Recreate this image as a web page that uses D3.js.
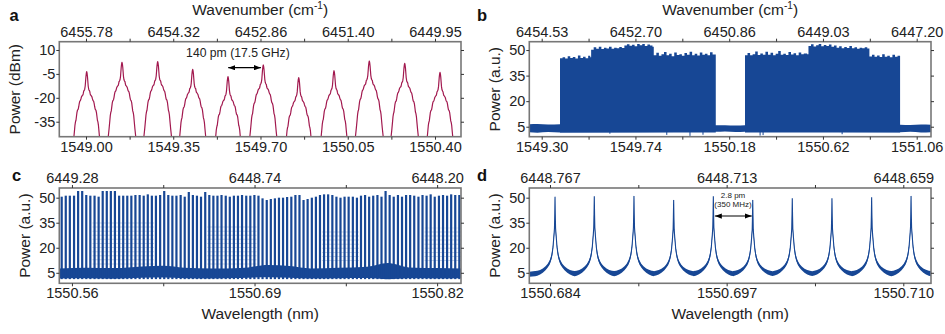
<!DOCTYPE html>
<html>
<head>
<meta charset="utf-8">
<script src="https://cdn.jsdelivr.net/npm/d3@7"></script>
<style>
  body { margin: 0; background: #fff; }
  svg { font-family: "Liberation Sans", Arial, sans-serif; }
</style>
</head>
<body>
<svg id="fig" width="945" height="334"></svg>
<script>
// ---------- panel a : comb lines (dBm) ----------
const aTicks = [1549.00, 1549.35, 1549.70, 1550.05, 1550.40];
const aMinor = [1549.175, 1549.525, 1549.875, 1550.225];
const aTopLabels = ['6455.78', '6454.32', '6452.86', '6451.40', '6449.95'];
const aYTicks = [10, -5, -20, -35];
const aPeakCenters = [1549.0028, 1549.1444, 1549.2876, 1549.4280, 1549.5696, 1549.7112,
  1549.8533, 1549.9949, 1550.1365, 1550.2785, 1550.4201];
const aPeakHeights = [-3.6, 2.3, 2.7, -2.1, -6.7, 0.6, -7.3, -3.0, 3.1, 1.6, -4.0];
// one side of a line: offset in pm, level relative to the tip in dB
const aProfilePm = [0, 1.5, 3, 4.5, 6, 8, 10, 12, 13.5, 15, 18, 21, 23, 25, 28, 30, 32, 34, 37, 39, 41, 43, 45, 47, 49, 52, 56, 62];
const aProfileDb = [0, -1, -3, -6, -9, -11, -11.8, -12.2, -13.5, -14.5, -15, -15.8, -17, -18, -18.6, -20, -22, -23.5,
  -24.2, -25.5, -28, -30.5, -31.5, -33.5, -37, -42, -48, -56];

// ---------- panel b : two broad bands (a.u.) ----------
const bTicks = [1549.30, 1549.74, 1550.18, 1550.62, 1551.06];
const bMinor = [1549.52, 1549.96, 1550.40, 1550.84];
const bTopLabels = ['6454.53', '6452.70', '6450.86', '6449.03', '6447.20'];
const bYTicks = [50, 35, 20, 5];
const bBand1 = [[1549.386,45.2],[1549.398,45.8],[1549.410,45.0],[1549.422,46.4],[1549.434,45.3],[1549.446,45.9],
  [1549.458,45.1],[1549.470,46.8],[1549.482,45.4],[1549.494,46.0],[1549.506,45.2],[1549.518,46.6],[1549.528,45.8],
  [1549.532,50.2],[1549.544,51.6],[1549.556,50.8],[1549.568,51.9],[1549.580,50.6],[1549.592,51.3],[1549.604,50.9],
  [1549.616,52.0],[1549.628,50.7],[1549.640,51.4],[1549.652,51.0],[1549.664,51.8],[1549.676,51.2],[1549.688,52.6],
  [1549.700,53.4],[1549.712,52.5],[1549.724,53.1],[1549.736,52.2],[1549.748,53.6],[1549.760,52.8],[1549.772,53.5],
  [1549.784,52.4],[1549.796,53.2],[1549.808,52.6],[1549.820,52.0],
  [1549.826,47.0],[1549.838,48.4],[1549.850,46.6],[1549.862,47.5],[1549.874,48.8],[1549.886,46.9],[1549.898,47.8],
  [1549.910,46.4],[1549.922,48.6],[1549.934,47.1],[1549.946,47.6],[1549.958,46.7],[1549.970,48.2],[1549.982,47.3],
  [1549.994,49.0],[1550.006,47.0],[1550.018,47.8],[1550.030,46.8],[1550.042,48.5],[1550.054,47.2],[1550.066,47.9],
  [1550.078,46.9],[1550.090,48.7],[1550.102,47.4],[1550.117,47.4]];
const bBand2 = [[1550.254,47.0],[1550.266,48.2],[1550.278,46.9],[1550.290,47.6],[1550.302,49.2],[1550.314,47.1],
  [1550.326,48.0],[1550.338,47.3],[1550.350,49.0],[1550.362,47.2],[1550.374,48.4],[1550.386,47.0],[1550.398,47.8],
  [1550.410,49.4],[1550.422,47.3],[1550.434,47.9],[1550.446,47.1],[1550.458,48.8],[1550.470,47.4],[1550.482,48.1],
  [1550.494,47.0],[1550.506,48.6],[1550.518,47.5],[1550.530,48.0],[1550.546,47.6],
  [1550.552,52.4],[1550.564,53.4],[1550.576,52.1],[1550.588,52.8],[1550.600,53.6],[1550.612,52.3],[1550.624,53.0],
  [1550.636,52.4],[1550.648,53.3],[1550.660,52.0],[1550.672,52.7],[1550.684,51.4],[1550.696,52.2],[1550.708,51.0],
  [1550.720,51.8],[1550.732,51.2],[1550.744,52.4],[1550.756,51.0],[1550.768,51.6],[1550.780,50.8],[1550.792,51.4],
  [1550.804,51.0],[1550.816,51.7],[1550.828,50.9],
  [1550.838,46.2],[1550.850,47.3],[1550.862,46.0],[1550.874,46.8],[1550.886,45.9],[1550.898,47.6],[1550.910,46.1],
  [1550.922,46.7],[1550.934,45.8],[1550.946,47.2],[1550.958,46.0],[1550.970,46.6],[1550.982,46.6]];
const bBaseWl = [1549.242, 1549.28, 1549.33, 1549.386, 1550.117, 1550.16, 1550.21, 1550.254, 1550.982, 1551.03, 1551.08, 1551.127];
const bBaseHi = [6.4, 6.6, 6.3, 6.5, 5.8, 5.9, 5.7, 5.9, 6.2, 6.0, 6.3, 6.1];
const bBaseLo = [1.8, 1.5, 1.9, 1.6, 2.0, 2.2, 1.9, 2.1, 1.7, 2.0, 1.6, 1.8];
const bDips = [[1549.62, 0.9], [1549.887, 0.2], [1549.996, -0.4], [1550.057, 0.3], [1550.325, -0.2], [1550.339, 0.1], [1550.71, 0.6]];

// ---------- panel c : resolved comb (a.u.) ----------
const cTicks = [1550.56, 1550.69, 1550.82];
const cMinor = [1550.625, 1550.755];
const cTopLabels = ['6449.28', '6448.74', '6448.20'];
const cYTicks = [50, 35, 20, 5];
const cOrigin = 1550.55; // line positions below are pm above this wavelength
const cLinePm = [2.7,5.6,8.5,11.5,14.4,17.3,20.2,23.1,26.1,29.0,31.9,34.8,37.7,40.6,43.6,46.5,49.4,52.3,55.2,58.2,
  61.1,64.0,66.9,69.8,72.8,75.7,78.6,81.5,84.4,87.4,90.3,93.2,96.1,99.0,101.9,104.9,107.8,110.7,113.6,116.5,
  119.5,122.4,125.3,128.2,131.1,134.1,137.0,139.9,142.8,145.7,148.7,151.6,154.5,157.4,160.3,163.2,166.2,169.1,172.0,174.9,
  177.8,180.8,183.7,186.6,189.5,192.4,195.4,198.3,201.2,204.1,207.0,210.0,212.9,215.8,218.7,221.6,224.5,227.5,230.4,233.3,
  236.2,239.1,242.1,245.0,247.9,250.8,253.7,256.7,259.6,262.5,265.4,268.3,271.3,274.2,277.1,280.0,282.9,285.8];
const cLineHeights = [50.6,51.2,51.2,51.2,54.0,54.0,51.6,51.2,51.2,50.6,54.0,54.0,54.0,54.0,51.2,51.2,51.2,51.2,51.6,51.6,
  51.2,52.0,51.2,51.2,
  51.6,54.0,51.6,51.2,51.2,51.6,50.6,53.4,51.6,51.2,50.6,53.4,51.6,51.2,51.2,51.6,51.2,50.6,51.2,51.2,51.6,51.2,51.2,51.6,51.2,
  49.6,48.6,49.2,49.6,50.0,50.0,50.4,50.6,51.6,51.6,48.6,49.2,50.0,50.6,51.6,52.0,52.0,51.6,50.6,50.0,50.6,50.6,50.6,50.0,
  51.2,51.6,50.6,51.2,51.6,50.6,54.0,51.6,50.6,51.6,50.6,51.6,51.6,51.2,50.6,51.6,51.2,52.0,50.6,51.2,51.6,51.2,52.0,51.6,51.6];
const cBaseWl = [1550.551, 1550.57, 1550.59, 1550.61, 1550.625, 1550.64, 1550.66, 1550.68, 1550.70, 1550.715,
  1550.73, 1550.75, 1550.77, 1550.785, 1550.80, 1550.82, 1550.837];
const cBaseHi = [7.6, 8.0, 7.8, 8.8, 9.2, 8.0, 7.5, 7.8, 9.6, 9.0, 7.6, 8.0, 8.6, 10.8, 8.2, 7.8, 7.6];
const cBaseLo = [1.6, 1.8, 1.5, 2.0, 2.2, 1.8, 1.6, 1.9, 2.3, 2.0, 1.6, 1.8, 1.9, 1.2, 1.7, 1.6, 1.8];
// faint flank samples visible between lines: [from, to, low, high]
const cFlanks = [[1550.576, 1550.617, 10, 36], [1550.657, 1550.692, 10, 33], [1550.739, 1550.763, 12, 30], [1550.810, 1550.836, 12, 32]];

// ---------- panel d : single lines (a.u.) ----------
const dTicks = [1550.684, 1550.697, 1550.710];
const dMinor = [1550.6905, 1550.7035];
const dTopLabels = ['6448.767', '6448.713', '6448.659'];
const dYTicks = [50, 35, 20, 5];
const dPeakCenters = [1550.68437, 1550.68726, 1550.69018, 1550.69310, 1550.69602, 1550.69892,
  1550.70183, 1550.70475, 1550.70767, 1550.71057];
const dPeakHeights = [51.6, 51.8, 52.0, 49.6, 51.8, 49.6, 50.6, 50.6, 51.2, 52.0];
const dBase = 4.5;
// one side of a line (offset pm, upper and lower edge of the noisy trace)
const dProfilePm = [0, 0.02, 0.04, 0.07, 0.1, 0.15, 0.22, 0.3, 0.4, 0.55, 0.7, 0.9, 1.1, 1.3, 1.46];
const dProfileHi = [51, 41, 33, 29.5, 26.5, 21.5, 17.5, 14.5, 12.3, 10.2, 8.8, 7.5, 6.7, 6.2, 6.0];
const dProfileLo = [49, 38, 30, 26.5, 23.5, 18.5, 14.5, 12, 9.8, 7.9, 6.5, 5.0, 4.0, 3.3, 3.0];
const dEdge = { hi: 5.6, lo: 2.6 };

// ---------- drawing ----------
const svg = d3.select('#fig');
const blue = '#174795';
const red = '#a2194f';

const defs = svg.append('defs');
defs.append('marker')
  .attr('id', 'head')
  .attr('viewBox', '0 0 8 6')
  .attr('refX', 8).attr('refY', 3)
  .attr('markerUnits', 'userSpaceOnUse')
  .attr('markerWidth', 7).attr('markerHeight', 5.5)
  .attr('orient', 'auto-start-reverse')
  .append('path').attr('d', 'M0,0L8,3L0,6Z').attr('fill', '#000');

function makePanel(p) {
  const x = d3.scaleLinear().domain(p.xDomain).range([p.left, p.right]);
  const y = d3.scaleLinear().domain(p.yDomain).range([p.bottom, p.top]);
  defs.append('clipPath').attr('id', 'clip-' + p.name)
    .append('rect')
    .attr('x', p.left).attr('y', p.top)
    .attr('width', p.right - p.left).attr('height', p.bottom - p.top);
  const g = svg.append('g');
  const plot = g.append('g').attr('clip-path', `url(#clip-${p.name})`);
  return { p, x, y, g, plot };
}

function finishPanel(P) {
  const { p, x, y, g } = P;
  const style = sel => {
    sel.attr('font-family', null).attr('font-size', 14.5);
    sel.select('.domain').remove();
    sel.selectAll('.tick line').attr('stroke', '#333').attr('stroke-width', 1);
    sel.selectAll('.tick text').attr('fill', '#222');
  };
  g.append('rect')
    .attr('x', p.left).attr('y', p.top)
    .attr('width', p.right - p.left).attr('height', p.bottom - p.top)
    .attr('fill', 'none').attr('stroke', '#777').attr('stroke-width', 1.6);

  g.append('g').attr('transform', `translate(0,${p.bottom})`)
    .call(d3.axisBottom(x).tickValues(p.xTicks).tickFormat(d3.format(p.xFmt)).tickSize(3).tickPadding(1.8))
    .call(style);
  g.append('g').attr('transform', `translate(0,${p.bottom})`)
    .call(d3.axisBottom(x).tickValues(p.xMinor).tickFormat('').tickSize(3))
    .call(style);
  g.append('g').attr('transform', `translate(0,${p.top})`)
    .call(d3.axisTop(x).tickValues(p.xTicks).tickFormat((d, i) => p.topLabels[i]).tickSize(3).tickPadding(2.2))
    .call(style);
  g.append('g').attr('transform', `translate(0,${p.top})`)
    .call(d3.axisTop(x).tickValues(p.xMinor).tickFormat('').tickSize(3))
    .call(style);
  g.append('g').attr('transform', `translate(${p.left},0)`)
    .call(d3.axisLeft(y).tickValues(p.yTicks).tickFormat(d => String(d)).tickSize(3).tickPadding(1))
    .call(style);
  g.append('g').attr('transform', `translate(${p.right},0)`)
    .call(d3.axisRight(y).tickValues(p.yTicks).tickFormat('').tickSize(3))
    .call(style);

  const mid = (p.top + p.bottom) / 2;
  g.append('text')
    .attr('transform', `translate(${p.yLabelX},${mid}) rotate(-90)`)
    .attr('text-anchor', 'middle').attr('dy', '0.35em')
    .attr('font-size', 15.5).attr('fill', '#222')
    .text(p.yLabel);

  g.append('text')
    .attr('x', p.letterX).attr('y', p.letterY)
    .attr('font-size', 16.5).attr('font-weight', 'bold').attr('fill', '#111')
    .text(p.name);

  const cx = (p.left + p.right) / 2;
  if (p.topTitle) {
    const t = g.append('text')
      .attr('x', cx).attr('y', p.top - 26.7)
      .attr('text-anchor', 'middle').attr('font-size', 15.5).attr('fill', '#222');
    t.append('tspan').text('Wavenumber (cm');
    t.append('tspan').attr('font-size', 10).attr('dy', -6).text('-1');
    t.append('tspan').attr('dy', 6).text(')');
  }
  if (p.bottomTitle) {
    g.append('text')
      .attr('x', cx).attr('y', p.bottom + 36)
      .attr('text-anchor', 'middle').attr('font-size', 15.5).attr('fill', '#222')
      .text('Wavelength (nm)');
  }
}

// ---- a ----
const A = makePanel({
  name: 'a', left: 59.3, right: 461, top: 41.7, bottom: 136.7,
  xDomain: [1548.8929, 1550.5043], yDomain: [-44.4, 15.2],
  xTicks: aTicks, xMinor: aMinor, xFmt: '.2f', topLabels: aTopLabels, yTicks: aYTicks,
  yLabel: 'Power (dBm)', yLabelX: 15, letterX: 9.5, letterY: 21, topTitle: true
});
const aLine = d3.line().x(d => A.x(d[0])).y(d => A.y(d[1]));
aPeakCenters.forEach((c, i) => {
  const h = aPeakHeights[i];
  const pts = [];
  for (let k = aProfilePm.length - 1; k > 0; k--) pts.push([c - aProfilePm[k] / 1000, h + aProfileDb[k]]);
  for (let k = 0; k < aProfilePm.length; k++) pts.push([c + aProfilePm[k] / 1000, h + aProfileDb[k]]);
  A.plot.append('path').attr('d', aLine(pts))
    .attr('fill', 'none').attr('stroke', red).attr('stroke-width', 1.2).attr('stroke-linejoin', 'round');
});
// spacing annotation
A.g.append('line')
  .attr('x1', A.x(1549.5705)).attr('x2', A.x(1549.7015))
  .attr('y1', 67.7).attr('y2', 67.7)
  .attr('stroke', '#000').attr('stroke-width', 1.2)
  .attr('marker-start', 'url(#head)').attr('marker-end', 'url(#head)');
A.g.append('text')
  .attr('x', A.x(1549.6095)).attr('y', 57.3)
  .attr('text-anchor', 'middle').attr('font-size', 12.2).attr('fill', '#222')
  .text('140 pm (17.5 GHz)');
finishPanel(A);

// ---- b ----
const B = makePanel({
  name: 'b', left: 529.3, right: 931, top: 41.7, bottom: 136.7,
  xDomain: [1549.2418, 1551.1271], yDomain: [-0.86, 54.9],
  xTicks: bTicks, xMinor: bMinor, xFmt: '.2f', topLabels: bTopLabels, yTicks: bYTicks,
  yLabel: 'Power (a.u.)', yLabelX: 495, letterX: 477, letterY: 21, topTitle: true
});
const bBase = bBaseWl.map((w, i) => [w, bBaseLo[i], bBaseHi[i]]);
B.plot.append('path')
  .attr('d', d3.area().x(d => B.x(d[0])).y0(d => B.y(d[1])).y1(d => B.y(d[2])).curve(d3.curveMonotoneX)(bBase))
  .attr('fill', blue);
const bArea = d3.area().x(d => B.x(d[0])).y0(B.y(1.6)).y1(d => B.y(d[1])).curve(d3.curveStepAfter);
[bBand1, bBand2].forEach(band => {
  B.plot.append('path').attr('d', bArea(band)).attr('fill', blue);
});
B.plot.selectAll('line.dip').data(bDips).join('line')
  .attr('x1', d => B.x(d[0])).attr('x2', d => B.x(d[0]))
  .attr('y1', B.y(2)).attr('y2', d => B.y(d[1]))
  .attr('stroke', blue).attr('stroke-width', 1);
finishPanel(B);

// ---- c ----
const C = makePanel({
  name: 'c', left: 59.3, right: 461, top: 188, bottom: 283.3,
  xDomain: [1550.551, 1550.837], yDomain: [-1.3, 55.8],
  xTicks: cTicks, xMinor: cMinor, xFmt: '.2f', topLabels: cTopLabels, yTicks: cYTicks,
  yLabel: 'Power (a.u.)', yLabelX: 25, letterX: 12, letterY: 180.7, bottomTitle: true
});
const cLines = cLinePm.map((pm, i) => ({ wl: cOrigin + pm / 1000, h: cLineHeights[i] }));
const cFlankLines = [];
cLines.forEach(l => {
  cFlanks.forEach(f => { if (l.wl >= f[0] && l.wl <= f[1]) cFlankLines.push({ wl: l.wl, lo: f[2], hi: f[3] }); });
});
C.plot.selectAll('line.flank').data(cFlankLines).join('line')
  .attr('x1', d => C.x(d.wl)).attr('x2', d => C.x(d.wl))
  .attr('y1', d => C.y(d.lo)).attr('y2', d => C.y(d.hi))
  .attr('stroke', '#9db2d8').attr('stroke-width', 4.2).attr('stroke-dasharray', '1,3.1').attr('opacity', 0.5);
const cBase = cBaseWl.map((w, i) => [w, cBaseLo[i], cBaseHi[i]]);
C.plot.append('path')
  .attr('d', d3.area().x(d => C.x(d[0])).y0(d => C.y(d[1])).y1(d => C.y(d[2])).curve(d3.curveMonotoneX)(cBase))
  .attr('fill', blue);
C.plot.selectAll('rect.line').data(cLines).join('rect')
  .attr('x', d => C.x(d.wl) - 1.1).attr('width', 2.2)
  .attr('y', d => C.y(d.h)).attr('height', d => C.y(1.2) - C.y(d.h))
  .attr('fill', blue);
finishPanel(C);

// ---- d ----
const D = makePanel({
  name: 'd', left: 529.3, right: 931, top: 188, bottom: 283.3,
  xDomain: [1550.682477, 1550.712038], yDomain: [-1.3, 55.8],
  xTicks: dTicks, xMinor: dMinor, xFmt: '.3f', topLabels: dTopLabels, yTicks: dYTicks,
  yLabel: 'Power (a.u.)', yLabelX: 495, letterX: 477, letterY: 180.7, bottomTitle: true
});
const dPts = [];
dPeakCenters.forEach((c, i) => {
  const k = (dPeakHeights[i] - dBase) / (dProfileHi[0] - dBase);
  for (let j = dProfilePm.length - 1; j >= 0; j--) {
    const s = j === 0 ? [1] : [-1, 1];
    s.forEach(sg => dPts.push({
      wl: c + sg * dProfilePm[j] / 1000,
      hi: dBase + (dProfileHi[j] - dBase) * k,
      lo: dBase + (dProfileLo[j] - dBase) * k
    }));
  }
});
dPts.push({ wl: D.x.domain()[0], hi: dEdge.hi, lo: dEdge.lo });
dPts.push({ wl: D.x.domain()[1], hi: dEdge.hi, lo: dEdge.lo });
dPts.sort((a, b) => a.wl - b.wl);
D.plot.append('path')
  .attr('d', d3.area().x(d => D.x(d.wl)).y0(d => D.y(d.lo)).y1(d => D.y(d.hi))(dPts))
  .attr('fill', blue);
D.plot.append('path')
  .attr('d', d3.line().x(d => D.x(d.wl)).y(d => D.y((d.lo + d.hi) / 2))(dPts))
  .attr('fill', 'none').attr('stroke', blue).attr('stroke-width', 1.1);
D.g.append('line')
  .attr('x1', D.x(1550.69602) + 1.5).attr('x2', D.x(1550.69892) - 1)
  .attr('y1', 216).attr('y2', 216)
  .attr('stroke', '#000').attr('stroke-width', 1.2)
  .attr('marker-start', 'url(#head)').attr('marker-end', 'url(#head)');
D.g.append('text')
  .attr('x', D.x(1550.69747)).attr('y', 198.3)
  .attr('text-anchor', 'middle').attr('font-size', 8).attr('fill', '#222')
  .text('2.8 pm');
D.g.append('text')
  .attr('x', D.x(1550.69747)).attr('y', 207.3)
  .attr('text-anchor', 'middle').attr('font-size', 8).attr('fill', '#222')
  .text('(350 MHz)');
finishPanel(D);
</script>
</body>
</html>
